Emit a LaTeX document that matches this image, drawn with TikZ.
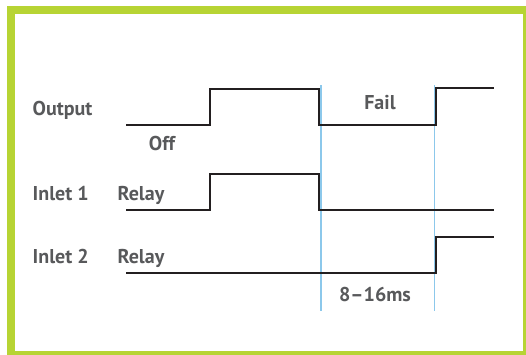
\documentclass[tikz,border=0pt]{standalone}
\usepackage{fontspec}
\setmainfont{PT Sans}
\definecolor{framegreen}{RGB}{183,212,52}
\definecolor{txtgray}{RGB}{88,89,91}
\definecolor{wave}{RGB}{35,31,32}
\definecolor{markblue}{RGB}{140,200,235}
\begin{document}
\begin{tikzpicture}[x=1pt,y=-1pt,
  lbl/.style={text=txtgray,font=\bfseries\fontsize{20}{24}\selectfont,inner sep=0pt},
  wav/.style={draw=wave,line width=1.8pt},
  markline/.style={draw=markblue,line width=1.3pt}]
\useasboundingbox (0,0) rectangle (526,354);
\fill[framegreen] (7,6) rectangle (530,358);
\fill[white] (15,14) rectangle (523,351);
% marker lines
\coordinate (m1t) at (321,85); \coordinate (m1b) at (321,311);
\coordinate (m2t) at (434.5,85); \coordinate (m2b) at (434.5,311);
\draw[markline] (m1t) -- (m1b);
\draw[markline] (m2t) -- (m2b);
% output waveform
\coordinate (o0) at (126,125);
\draw[wav] (o0) -- (210,125) -- (210,89) -- (319,89) -- (319,125) -- (436,125) -- (436,88) -- (494,88);
% inlet 1
\draw[wav] (126,210) -- (210,210) -- (210,174) -- (319,174) -- (319,210) -- (494,210);
% inlet 2
\draw[wav] (126,273) -- (436,273) -- (436,237) -- (494,237);
% labels
\node[lbl,anchor=base west] (out) at (32.5,115) {Output};
\node[lbl,anchor=base] (fail) at (380,109) {Fail};
\node[lbl,anchor=base] (off) at (162,150) {Off};
\node[lbl,anchor=base west] (in1) at (32.5,200) {Inlet 1};
\node[lbl,anchor=base west] (r1) at (117.5,200) {Relay};
\node[lbl,anchor=base west] (in2) at (32.5,263) {Inlet 2};
\node[lbl,anchor=base west] (r2) at (117.5,263) {Relay};
\node[lbl,anchor=base] (ms) at (375,301) {8–16ms};
\end{tikzpicture}
\end{document}
